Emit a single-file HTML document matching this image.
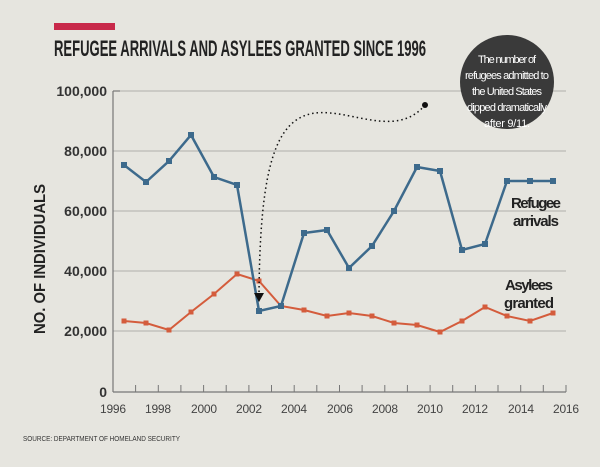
<!DOCTYPE html>
<html><head><style>
body{margin:0;background:#e6e5df;}
svg{display:block;font-family:"Liberation Sans",sans-serif;}
</style></head><body>
<svg width="600" height="467" viewBox="0 0 600 467">
<rect width="600" height="467" fill="#e6e5df"/>
<rect x="54" y="23" width="61" height="7" fill="#c8294a"/>
<text x="54" y="56" font-size="22" font-weight="bold" fill="#222" textLength="372" lengthAdjust="spacingAndGlyphs">REFUGEE ARRIVALS AND ASYLEES GRANTED SINCE 1996</text>
<g stroke="#b0b0ab" stroke-width="1">
<line x1="113" y1="91" x2="566" y2="91"/><line x1="113" y1="151" x2="566" y2="151"/>
<line x1="113" y1="211" x2="566" y2="211"/><line x1="113" y1="271" x2="566" y2="271"/>
<line x1="113" y1="331" x2="566" y2="331"/>
</g>
<g stroke="#777" stroke-width="1.2" fill="none">
<line x1="113" y1="91" x2="113" y2="392"/><line x1="113" y1="392" x2="566" y2="392"/>
<line x1="113" y1="91" x2="120" y2="91"/>
</g>
<g stroke="#777" stroke-width="1">
<path d="M135.6 392v-7M158.3 392v-7M180.9 392v-7M203.6 392v-7M226.2 392v-7M248.9 392v-7M271.5 392v-7M294.2 392v-7M316.8 392v-7M339.5 392v-7M362.1 392v-7M384.8 392v-7M407.4 392v-7M430.1 392v-7M452.7 392v-7M475.4 392v-7M498 392v-7M520.7 392v-7M543.3 392v-7M566 392v-7"/>
</g>
<g font-size="14" font-weight="bold" fill="#333" text-anchor="end">
<text x="107" y="96">100,000</text><text x="107" y="156">80,000</text><text x="107" y="216">60,000</text>
<text x="107" y="276">40,000</text><text x="107" y="336">20,000</text><text x="107" y="397">0</text>
</g>
<g font-size="12" fill="#444" text-anchor="middle" lengthAdjust="spacingAndGlyphs">
<text x="113" y="413" textLength="26">1996</text><text x="158" y="413" textLength="26">1998</text><text x="204" y="413" textLength="26">2000</text><text x="249" y="413" textLength="26">2002</text><text x="294" y="413" textLength="26">2004</text><text x="340" y="413" textLength="26">2006</text><text x="385" y="413" textLength="26">2008</text><text x="430" y="413" textLength="26">2010</text><text x="475" y="413" textLength="26">2012</text><text x="521" y="413" textLength="26">2014</text><text x="566" y="413" textLength="26">2016</text>
</g>
<text transform="translate(45,334) rotate(-90)" font-size="16" font-weight="bold" fill="#222" textLength="150" lengthAdjust="spacingAndGlyphs">NO. OF INDIVIDUALS</text>
<text x="23" y="441" font-size="7" fill="#333" textLength="157" lengthAdjust="spacingAndGlyphs">SOURCE: DEPARTMENT OF HOMELAND SECURITY</text>
<polyline fill="none" stroke="#d45c3c" stroke-width="2" points="124,321 146,323 169,330 191,312 214,294 237,274 259,281 281,306 304,310 327,316 349,313 372,316 394,323 417,325 440,332 462,321 485,307 507,316 530,321 553,313"/>
<g fill="#d45c3c">
<rect x="121.5" y="318.5" width="5" height="5"/><rect x="143.5" y="320.5" width="5" height="5"/><rect x="166.5" y="327.5" width="5" height="5"/><rect x="188.5" y="309.5" width="5" height="5"/><rect x="211.5" y="291.5" width="5" height="5"/><rect x="234.5" y="271.5" width="5" height="5"/><rect x="256.5" y="278.5" width="5" height="5"/><rect x="278.5" y="303.5" width="5" height="5"/><rect x="301.5" y="307.5" width="5" height="5"/><rect x="324.5" y="313.5" width="5" height="5"/><rect x="346.5" y="310.5" width="5" height="5"/><rect x="369.5" y="313.5" width="5" height="5"/><rect x="391.5" y="320.5" width="5" height="5"/><rect x="414.5" y="322.5" width="5" height="5"/><rect x="437.5" y="329.5" width="5" height="5"/><rect x="459.5" y="318.5" width="5" height="5"/><rect x="482.5" y="304.5" width="5" height="5"/><rect x="504.5" y="313.5" width="5" height="5"/><rect x="527.5" y="318.5" width="5" height="5"/><rect x="550.5" y="310.5" width="5" height="5"/>
</g>
<polyline fill="none" stroke="#3d6a8c" stroke-width="2.5" points="124,165 146,182 169,161 191,135 214,177 237,185 259,311 281,306 304,233 327,230 349,268 372,246 394,211 417,167 440,171 462,250 485,244 507,181 530,181 553,181"/>
<g fill="#3d6a8c">
<rect x="121" y="162" width="6" height="6"/><rect x="143" y="179" width="6" height="6"/><rect x="166" y="158" width="6" height="6"/><rect x="188" y="132" width="6" height="6"/><rect x="211" y="174" width="6" height="6"/><rect x="234" y="182" width="6" height="6"/><rect x="256" y="308" width="6" height="6"/><rect x="278" y="303" width="6" height="6"/><rect x="301" y="230" width="6" height="6"/><rect x="324" y="227" width="6" height="6"/><rect x="346" y="265" width="6" height="6"/><rect x="369" y="243" width="6" height="6"/><rect x="391" y="208" width="6" height="6"/><rect x="414" y="164" width="6" height="6"/><rect x="437" y="168" width="6" height="6"/><rect x="459" y="247" width="6" height="6"/><rect x="482" y="241" width="6" height="6"/><rect x="504" y="178" width="6" height="6"/><rect x="527" y="178" width="6" height="6"/><rect x="550" y="178" width="6" height="6"/>
</g>
<g font-size="15" font-weight="bold" fill="#222" text-anchor="middle" lengthAdjust="spacingAndGlyphs">
<text x="536" y="208" textLength="50">Refugee</text><text x="536" y="226" textLength="46">arrivals</text>
<text x="529" y="290" textLength="48">Asylees</text><text x="529" y="308" textLength="50">granted</text>
</g>
<path d="M425 105 C400 135 360 115 330 113 C280 108 260 150 259 295" fill="none" stroke="#111" stroke-width="1.5" stroke-dasharray="1.5 3"/>
<circle cx="425" cy="105" r="3" fill="#111"/>
<polygon points="254,293 264,293 259,302" fill="#111"/>
<circle cx="507" cy="82" r="47" fill="#3a3a3a"/>
<g font-size="11" fill="#fff" text-anchor="middle" lengthAdjust="spacingAndGlyphs">
<text x="507" y="63" textLength="58">The number of</text><text x="507" y="79" textLength="84">refugees admitted to</text><text x="507" y="95" textLength="70">the United States</text><text x="507" y="111" textLength="80">dipped dramatically</text><text x="507" y="127" textLength="46">after 9/11.</text>
</g>
</svg>
</body></html>
